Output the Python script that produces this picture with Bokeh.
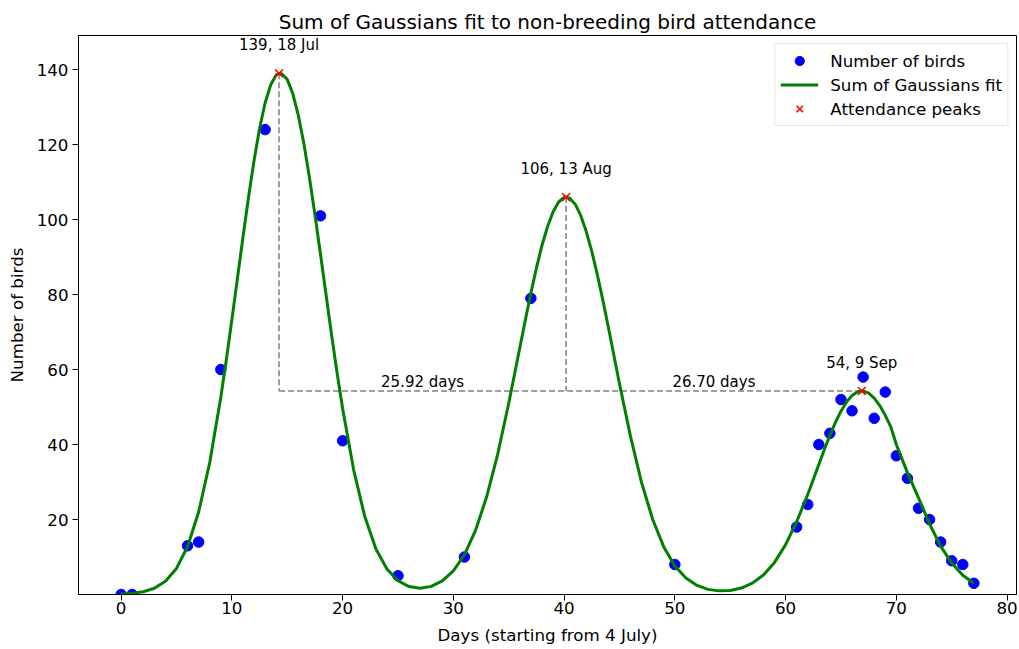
from bokeh.plotting import figure
from bokeh.models import Range1d, FixedTicker, Legend, LegendItem
from bokeh.core.properties import value
from bokeh.embed import file_html
from bokeh.resources import INLINE

# Observed counts
days = [0, 1, 6, 7, 9, 13, 18, 20, 25, 31, 37, 50, 61, 62, 63, 64, 65, 66, 67, 68,
        69, 70, 71, 72, 73, 74, 75, 76, 77]
birds = [0, 0, 13, 14, 60, 124, 101, 41, 5, 10, 79, 8, 18, 24, 40, 43, 52, 49, 58, 47,
         54, 37, 31, 23, 20, 14, 9, 8, 3]

# Fitted curve
fit_days = [0, 1, 2, 3, 4, 5, 6, 7, 8, 9, 9.5, 10, 10.5, 11, 11.5, 12, 12.5, 13, 13.5,
            14, 14.26, 14.5, 15, 15.5, 16, 16.5, 17, 17.5, 18, 18.5, 19, 19.5, 20,
            21, 22, 23, 24, 25, 26, 27, 28, 29, 30, 31, 32, 33, 34, 35, 36, 36.5, 37,
            37.5, 38, 38.5, 39, 39.5, 40, 40.18, 40.5, 41, 41.5, 42, 42.5, 43, 43.5, 44,
            45, 46, 47, 48, 49, 50, 51, 52, 53, 54, 55, 56, 57, 58, 59, 60, 61, 62, 63,
            63.5, 64, 64.5, 65, 65.5, 66, 66.5, 66.88, 67, 67.5, 68, 68.5, 69, 69.5, 70,
            71, 72, 73, 74, 75, 76, 77]
fit_birds = [0.12, 0.30, 0.74, 1.67, 3.53, 6.96, 12.8, 22.0, 35.2, 52.6, 62.6, 73.3, 84.3,
             95.3, 105.9, 115.7, 124.3, 131.1, 135.9, 138.6, 139.0, 138.9, 137.4, 133.6,
             127.8, 120.3, 111.3, 101.3, 90.8, 80.0, 69.3, 59.1, 49.6,
             33.2, 20.8, 12.2, 6.8, 3.66, 2.11, 1.68, 2.17, 3.63, 6.32, 10.6, 17.1, 26.0,
             37.4, 51.0, 65.8, 73.2, 80.4, 87.1, 93.1, 98.1, 102.0, 104.7, 105.9, 106.0,
             105.7, 104.1, 101.1, 96.8, 91.5, 85.3, 78.5, 71.2,
             56.2, 42.1, 29.8, 20.0, 12.7, 7.63, 4.37, 2.42, 1.37, 0.97, 1.09, 1.72, 3.03,
             5.22, 8.56, 13.3, 19.4, 26.7, 34.7, 38.7, 42.4, 45.9, 48.9, 51.3, 53.1, 54.07,
             54.3, 54.3, 53.7, 52.4, 50.4, 47.8, 44.7, 40.0,
             32.5, 25.8, 18.8, 12.9, 8.38, 5.14, 2.98]

peak_days = [14.26, 40.18, 66.88]
peak_birds = [139, 106, 54.3]
peak_labels = ["139, 18 Jul", "106, 13 Aug", "54, 9 Sep"]
gap_labels = ["25.92 days", "26.70 days"]

x_ticks = [0, 10, 20, 30, 40, 50, 60, 70, 80]
y_ticks = [20, 40, 60, 80, 100, 120, 140]

FONT = "DejaVu Sans"
FS = "16.7px"
FS_NOTE = "15px"

p = figure(width=1019, height=649, output_backend="svg", toolbar_location=None,
           x_range=Range1d(-3.85, 80.85), y_range=Range1d(0, 149.1),
           min_border_left=78, min_border_right=3, min_border_top=35,
           min_border_bottom=55,
           title="Sum of Gaussians fit to non-breeding bird attendance")

p.title.text_font = FONT
p.title.text_font_size = "20px"
p.title.text_font_style = "normal"
p.title.align = "center"
p.title.text_color = "black"
p.title.standoff = 4

p.xgrid.visible = False
p.ygrid.visible = False
p.outline_line_color = "black"
p.outline_line_width = 1
p.outline_line_alpha = 1
p.background_fill_color = "white"

for ax in (p.xaxis, p.yaxis):
    ax.axis_line_color = "black"
    ax.major_tick_line_color = "black"
    ax.major_tick_in = 0
    ax.major_tick_out = 6
    ax.minor_tick_line_color = None
    ax.major_label_text_font = FONT
    ax.major_label_text_font_size = FS
    ax.major_label_text_color = "black"
    ax.axis_label_text_font = FONT
    ax.axis_label_text_font_size = FS
    ax.axis_label_text_font_style = "normal"
    ax.axis_label_text_color = "black"
    ax.major_label_standoff = 4

p.xaxis.major_label_standoff = 1
p.xaxis.ticker = FixedTicker(ticks=x_ticks)
p.yaxis.ticker = FixedTicker(ticks=y_ticks)
p.xaxis.axis_label = "Days (starting from 4 July)"
p.yaxis.axis_label = "Number of birds"
p.xaxis.axis_label_standoff = 8
p.yaxis.axis_label_standoff = 7

# dashed guide lines between peaks
p.segment(x0=[peak_days[0], peak_days[1], peak_days[0]],
          y0=[peak_birds[0], peak_birds[1], peak_birds[2]],
          x1=[peak_days[0], peak_days[1], peak_days[2]],
          y1=[peak_birds[2], peak_birds[2], peak_birds[2]],
          line_color="gray", line_dash="6 3", line_width=1.5)

r_pts = p.scatter(days, birds, size=10.5, fill_color="blue", line_color="blue")
r_fit = p.line(fit_days, fit_birds, line_color="green", line_width=3)
r_peak = p.scatter(peak_days, peak_birds, marker="x", size=11, line_color="red",
                   line_width=1.6)

p.text(x=peak_days, y=peak_birds, text=peak_labels, y_offset=-19,
       text_align="center", text_baseline="bottom",
       text_font=value(FONT), text_font_size=FS_NOTE, text_color="black")

mid_x = [(peak_days[0] + peak_days[1]) / 2, (peak_days[1] + peak_days[2]) / 2]
p.text(x=mid_x, y=[peak_birds[2], peak_birds[2]], text=gap_labels, y_offset=0,
       text_align="center", text_baseline="bottom",
       text_font=value(FONT), text_font_size=FS_NOTE, text_color="black")

legend = Legend(items=[LegendItem(label="Number of birds", renderers=[r_pts]),
                       LegendItem(label="Sum of Gaussians fit", renderers=[r_fit]),
                       LegendItem(label="Attendance peaks", renderers=[r_peak])],
                location="top_right")
legend.margin = 8
legend.padding = 5
legend.spacing = 1
legend.glyph_width = 38
legend.glyph_height = 23
legend.label_height = 23
legend.label_standoff = 12
legend.label_text_font = FONT
legend.label_text_font_size = FS
legend.label_text_color = "black"
legend.border_line_color = "#cccccc"
legend.border_line_width = 1
legend.background_fill_alpha = 0.8
p.add_layout(legend)

open("out.html", "w").write(file_html(p, INLINE))
